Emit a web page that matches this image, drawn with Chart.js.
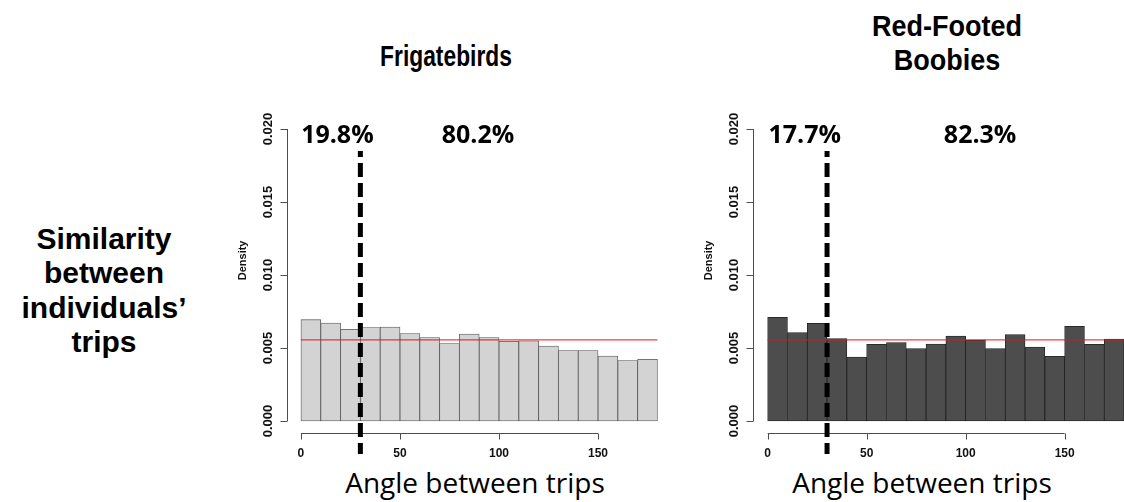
<!DOCTYPE html>
<html>
<head>
<meta charset="utf-8">
<script src="https://cdn.jsdelivr.net/npm/chart.js@4.4.1/dist/chart.umd.min.js"></script>
<style>
  html, body { margin: 0; padding: 0; background: #fff; }
  body { width: 1124px; height: 502px; overflow: hidden; position: relative; font-family: "Liberation Sans", Arial, sans-serif; color: #000; }
  canvas { position: absolute; }
  .title { position: absolute; font-weight: bold; font-size: 30px; line-height: 34px; text-align: center; white-space: nowrap; transform: scaleX(0.76); }
  .side { position: absolute; left: 4px; width: 200px; top: 222px; font-weight: bold; font-size: 30px; line-height: 34.4px; text-align: center; }
  .xlab { position: absolute; width: 320px; top: 468px; font-family: "Open Sans", sans-serif; font-size: 28px; line-height: 28px; text-align: center; white-space: nowrap; }
</style>
</head>
<body>
<div class="title" style="left:346px; width:200px; top:39px;">Frigatebirds</div>
<div class="title" style="left:847px; width:200px; top:9px; transform: scaleX(0.9);">Red-Footed<br>Boobies</div>
<div class="side">Similarity<br>between<br>individuals’<br>trips</div>
<div class="xlab" style="left:315px;">Angle between trips</div>
<div class="xlab" style="left:762px;">Angle between trips</div>

<canvas id="frigate" width="470" height="380" style="left:230px; top:90px;"></canvas>
<canvas id="booby" width="470" height="380" style="left:700px; top:90px;"></canvas>

<script>
// histogram bins: 10 degree wide, mid points
const binMids = [5, 15, 25, 35, 45, 55, 65, 75, 85, 95, 105, 115, 125, 135, 145, 155, 165, 175];
const frigateDensity = [0.00694, 0.00671, 0.00628, 0.00640, 0.00644, 0.00599, 0.00571, 0.00530, 0.00596,
  0.00571, 0.00546, 0.00549, 0.00514, 0.00482, 0.00482, 0.00445, 0.00414, 0.00423];
const boobyDensity = [0.00710, 0.00605, 0.00669, 0.00564, 0.00438, 0.00525, 0.00537, 0.00496, 0.00527,
  0.00582, 0.00555, 0.00496, 0.00592, 0.00507, 0.00443, 0.00649, 0.00525, 0.00562];
const uniformDensity = 0.00556;
const cutoffAngle = 30;
const cutoffTop = 0.0185;
const cutoffBottom = -0.00226;

const xTickValues = [0, 50, 100, 150];
const yTickValues = [0, 0.005, 0.010, 0.015, 0.020];
const yTickLabels = ['0.000', '0.005', '0.010', '0.015', '0.020'];

const frigatePct = ['19.8%', '80.2%'];
const frigatePctAt = [18.4, 89.4];
const boobyPct = ['17.7%', '82.3%'];
const boobyPctAt = [18.7, 107.3];
const pctLevel = 0.01904;

// R style axes: lines only from first to last tick
const rAxes = {
  id: 'rAxes',
  beforeDatasetsDraw(chart) {
    const { ctx, chartArea } = chart;
    const x = chart.scales.x;
    const y = chart.scales.y;
    ctx.save();
    ctx.strokeStyle = '#4d4d4d';
    ctx.lineWidth = 1;
    ctx.fillStyle = '#111';

    // y axis
    const ax = Math.round(chartArea.left) + 0.5;
    ctx.beginPath();
    ctx.moveTo(ax, y.getPixelForValue(yTickValues[0]));
    ctx.lineTo(ax, y.getPixelForValue(yTickValues[yTickValues.length - 1]));
    yTickValues.forEach(v => {
      const py = Math.round(y.getPixelForValue(v)) + 0.5;
      ctx.moveTo(ax, py);
      ctx.lineTo(ax - 7, py);
    });
    ctx.stroke();
    ctx.font = 'bold 13px "Liberation Sans", Arial, sans-serif';
    ctx.textAlign = 'center';
    ctx.textBaseline = 'middle';
    yTickValues.forEach((v, i) => {
      ctx.save();
      ctx.translate(chartArea.left - 18.5, y.getPixelForValue(v));
      ctx.rotate(-Math.PI / 2);
      ctx.fillText(yTickLabels[i], 0, 0);
      ctx.restore();
    });
    ctx.save();
    ctx.font = 'bold 11px "Liberation Sans", Arial, sans-serif';
    ctx.translate(chartArea.left - 44, y.getPixelForValue(0.011));
    ctx.rotate(-Math.PI / 2);
    ctx.fillText('Density', 0, 0);
    ctx.restore();

    // x axis
    const ay = Math.round(chartArea.bottom) + 0.5;
    ctx.beginPath();
    ctx.moveTo(x.getPixelForValue(xTickValues[0]), ay);
    ctx.lineTo(x.getPixelForValue(xTickValues[xTickValues.length - 1]), ay);
    xTickValues.forEach(v => {
      const px = Math.round(x.getPixelForValue(v)) + 0.5;
      ctx.moveTo(px, ay);
      ctx.lineTo(px, ay + 6);
    });
    ctx.stroke();
    ctx.font = 'bold 12px "Liberation Sans", Arial, sans-serif';
    xTickValues.forEach(v => {
      ctx.fillText(String(v), x.getPixelForValue(v), chartArea.bottom + 20.5);
    });
    ctx.restore();
  },
  afterDatasetsDraw(chart, args, opts) {
    const { ctx } = chart;
    const x = chart.scales.x;
    const y = chart.scales.y;
    ctx.save();
    ctx.font = 'bold 25px "Open Sans", sans-serif';
    ctx.fillStyle = '#000';
    ctx.textAlign = 'center';
    ctx.textBaseline = 'alphabetic';
    opts.labels.forEach((t, i) => {
      ctx.fillText(t, x.getPixelForValue(opts.at[i]), y.getPixelForValue(pctLevel));
    });
    ctx.restore();
  }
};

function makeHist(id, density, fill, edge, pcts, pctAt, padding) {
  const bars = binMids.map((m, i) => ({ x: m, y: density[i] }));
  return new Chart(document.getElementById(id), {
    type: 'bar',
    data: {
      datasets: [
        {
          type: 'line',
          data: [{ x: cutoffAngle, y: cutoffTop }, { x: cutoffAngle, y: cutoffBottom }],
          borderColor: '#000',
          borderWidth: 5,
          borderDash: [14, 6],
          borderDashOffset: 8,
          borderCapStyle: 'butt',
          pointRadius: 0,
          clip: false,
          order: 1
        },
        {
          type: 'line',
          data: [{ x: 0, y: uniformDensity }, { x: 180, y: uniformDensity }],
          borderColor: 'rgba(225, 20, 20, 0.8)',
          borderWidth: 1.2,
          pointRadius: 0,
          order: 2
        },
        {
          data: bars,
          backgroundColor: fill,
          borderColor: edge,
          borderWidth: 0.8,
          borderSkipped: false,
          barPercentage: 1,
          categoryPercentage: 1,
          order: 3
        }
      ]
    },
    options: {
      responsive: false,
      animation: false,
      devicePixelRatio: 1,
      layout: { padding: padding },
      scales: {
        x: { type: 'linear', offset: false, min: -7.2, max: 187.2, display: false },
        y: { min: -0.0008, max: 0.0208, display: false }
      },
      plugins: {
        legend: { display: false },
        tooltip: { enabled: false },
        rAxes: { labels: pcts, at: pctAt }
      }
    },
    plugins: [rAxes]
  });
}

makeHist('frigate', frigateDensity, '#d3d3d3', '#555555', frigatePct, frigatePctAt,
  { left: 56.7, right: 28.3, top: 27.3, bottom: 37.3 });
makeHist('booby', boobyDensity, '#4d4d4d', '#1f1f1f', boobyPct, boobyPctAt,
  { left: 53.4, right: 31.7, top: 27.3, bottom: 37.3 });
</script>
</body>
</html>
